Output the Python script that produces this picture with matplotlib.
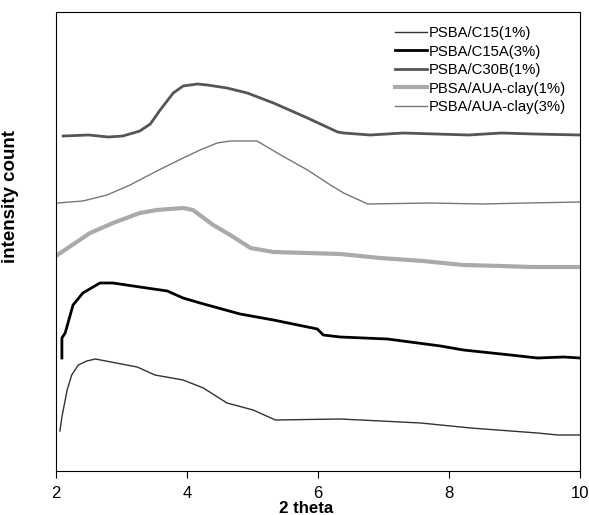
import matplotlib
matplotlib.use('Agg')
import matplotlib.pyplot as plt

plt.rcParams['font.family'] = ['Liberation Sans', 'DejaVu Sans']

# 2 theta / intensity (arbitrary units)
x_c15_1 = [2.06, 2.09, 2.17, 2.24, 2.34, 2.47, 2.60, 3.24, 3.51, 3.94, 4.25, 4.61,
           5.01, 5.35, 6.34, 7.57, 8.33, 9.35, 9.66, 10.0]
y_c15_1 = [35, 49, 76, 91, 101, 105, 107, 99, 91, 86, 78, 63,
           56, 46, 47, 43, 38, 33, 31, 31]

x_c15a_3 = [2.09, 2.09, 2.14, 2.26, 2.41, 2.67, 2.87, 3.28, 3.70, 3.94, 4.20, 4.81,
            5.32, 5.99, 6.08, 6.34, 7.06, 7.87, 8.22, 8.94, 9.35, 9.75, 10.0]
y_c15a_3 = [108, 128, 133, 161, 173, 183, 183, 179, 175, 168, 163, 152,
            146, 137, 131, 129, 127, 120, 116, 111, 108, 109, 108]

x_c30b_1 = [2.11, 2.5, 2.8, 3.02, 3.28, 3.44, 3.59, 3.79, 3.94, 4.16, 4.31, 4.61,
            4.92, 5.32, 5.84, 6.30, 6.39, 6.8, 7.3, 7.8, 8.3, 8.8, 9.3, 10.0]
y_c30b_1 = [330, 331, 329, 330, 335, 342, 356, 373, 380, 382, 381, 378,
            373, 363, 348, 334, 333, 331, 333, 332, 331, 333, 332, 331]

x_aua_1 = [2.02, 2.52, 2.87, 3.28, 3.54, 3.94, 4.09, 4.40, 4.66, 4.97, 5.32, 5.84,
           6.34, 6.95, 7.6, 8.22, 8.8, 9.25, 10.0]
y_aua_1 = [211, 233, 243, 253, 256, 258, 256, 241, 231, 218, 214, 213,
           212, 208, 205, 201, 200, 199, 199]

x_aua_3 = [2.02, 2.41, 2.78, 3.13, 3.54, 3.94, 4.20, 4.46, 4.66, 5.07, 5.43, 5.84,
           6.19, 6.39, 6.76, 7.72, 8.5, 9.2, 10.0]
y_aua_3 = [263, 265, 271, 281, 295, 308, 316, 323, 325, 325, 311, 296,
           281, 273, 262, 263, 262, 263, 264]

fig = plt.figure(figsize=(5.89, 5.15), dpi=100)
ax = fig.add_axes([56 / 589, 44 / 515, 524 / 589, 459 / 515])

ax.plot(x_c15_1, y_c15_1, color='#333333', lw=1.0, label='PSBA/C15(1%)')
ax.plot(x_c15a_3, y_c15a_3, color='black', lw=2.0, label='PSBA/C15A(3%)')
ax.plot(x_c30b_1, y_c30b_1, color='#555555', lw=2.0, label='PSBA/C30B(1%)')
ax.plot(x_aua_1, y_aua_1, color='#aaaaaa', lw=3.0, label='PBSA/AUA-clay(1%)')
ax.plot(x_aua_3, y_aua_3, color='#777777', lw=1.0, label='PSBA/AUA-clay(3%)')

ax.set_xlim(2, 10)
ax.set_ylim(-5, 454)
ax.set_xticks([2, 4, 6, 8, 10])
ax.set_yticks([])
ax.tick_params(axis='x', direction='out', length=5, labelsize=12, pad=6)

ax.set_xlabel('2 theta', fontweight='bold', fontsize=12.2)
ax.xaxis.set_label_coords(0.478, -0.065)
ax.set_ylabel('intensity count', fontweight='bold', fontsize=13.5)
ax.yaxis.set_label_coords(-0.0706, 0.599)

ax.legend(loc='upper right', bbox_to_anchor=(0.985, 0.982), frameon=False,
          fontsize=10.7, handlelength=2.15, handletextpad=0.15, labelspacing=0.3,
          borderaxespad=0.0)

fig.savefig('out.png')
